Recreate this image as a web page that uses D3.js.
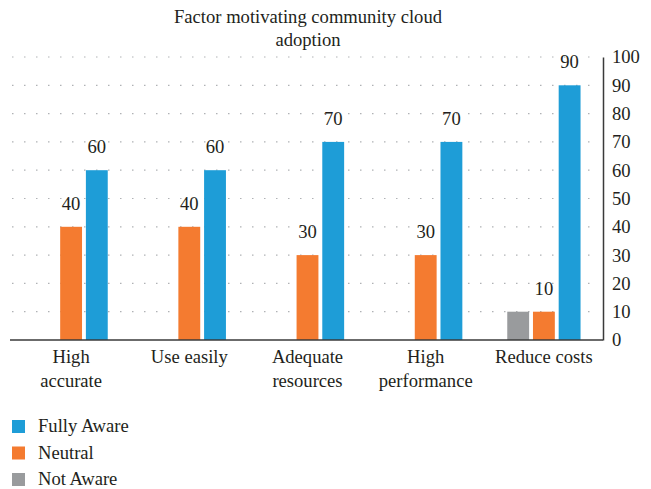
<!DOCTYPE html>
<html>
<head>
<meta charset="utf-8">
<script src="https://cdn.jsdelivr.net/npm/d3@7"></script>
<style>
  body { margin: 0; background: #fff; }
  text { font-family: "Liberation Serif", "DejaVu Serif", serif; fill: #231f20; }
</style>
</head>
<body>
<svg id="chart" width="651" height="489"></svg>
<script>
const categories = [["High", "accurate"], ["Use easily"], ["Adequate", "resources"], ["High", "performance"], ["Reduce costs"]];
const series = ["Not Aware", "Neutral", "Fully Aware"];
const notAware = [0, 0, 0, 0, 10];
const neutral = [40, 40, 30, 30, 10];
const fullyAware = [60, 60, 70, 70, 90];
const yTicks = [0, 10, 20, 30, 40, 50, 60, 70, 80, 90, 100];
const legendOrder = ["Fully Aware", "Neutral", "Not Aware"];

const colors = { "Not Aware": "#999b9d", "Neutral": "#f47b30", "Fully Aware": "#1e9dd7" };
const values = { "Not Aware": notAware, "Neutral": neutral, "Fully Aware": fullyAware };

const svg = d3.select("#chart");
const plotLeft = 12, plotRight = 603, plotTop = 57, plotBottom = 340;
const fs = 18.6;

const catKeys = categories.map(c => c.join(" "));
const x0 = d3.scaleBand().domain(catKeys).range([plotLeft, plotRight]).paddingInner(0.38).paddingOuter(0.19);
const x1 = d3.scaleBand().domain(series).range([0, x0.bandwidth()]).paddingInner(0.15);
const y = d3.scaleLinear().domain([0, 100]).range([plotBottom, plotTop]);

// title
svg.append("text").attr("x", 308).attr("text-anchor", "middle").attr("font-size", fs)
  .selectAll("tspan").data(["Factor motivating community cloud", "adoption"]).join("tspan")
  .attr("x", 308).attr("y", (d, i) => 23 + i * 23).text(d => d);

// dotted grid
svg.append("g").selectAll("line").data(yTicks.filter(d => d > 0)).join("line")
  .attr("x1", plotLeft).attr("x2", plotRight - 4)
  .attr("y1", d => y(d)).attr("y2", d => y(d))
  .attr("stroke", "#b0b2b5").attr("stroke-width", 1.2).attr("stroke-dasharray", "1.5 10.5");

// bars
const groups = svg.append("g").selectAll("g").data(catKeys).join("g")
  .attr("transform", d => `translate(${x0(d)},0)`);

groups.selectAll("rect")
  .data((d, i) => series.map(s => ({ s, v: values[s][i] })).filter(e => e.v > 0))
  .join("rect")
  .attr("x", d => x1(d.s)).attr("width", x1.bandwidth())
  .attr("y", d => y(d.v)).attr("height", d => y(0) - y(d.v))
  .attr("fill", d => colors[d.s]);

// value labels (grey label is hidden in the original)
groups.selectAll("text.val")
  .data((d, i) => ["Neutral", "Fully Aware"].map(s => ({ s, v: values[s][i] })).filter(e => e.v > 0))
  .join("text").attr("class", "val")
  .attr("x", d => x1(d.s) + x1.bandwidth() / 2).attr("y", d => y(d.v) - 17)
  .attr("text-anchor", "middle").attr("font-size", fs).text(d => d.v);

// baseline and right axis
svg.append("line").attr("x1", 10).attr("x2", plotRight).attr("y1", plotBottom).attr("y2", plotBottom)
  .attr("stroke", "#3a3a3a").attr("stroke-width", 1.5);

const yAxis = svg.append("g").attr("transform", `translate(${plotRight},0)`)
  .call(d3.axisRight(y).tickValues(yTicks).tickSize(0).tickPadding(9));
yAxis.attr("font-family", null);
yAxis.select(".domain").attr("stroke", "#3a3a3a").attr("stroke-width", 1.5);
yAxis.selectAll("text").attr("font-size", fs).attr("fill", "#231f20");

// category labels
svg.append("g").selectAll("text").data(categories).join("text")
  .attr("text-anchor", "middle").attr("font-size", fs)
  .each(function (d, i) {
    const cx = x0(catKeys[i]) + x0.bandwidth() / 2;
    d3.select(this).selectAll("tspan").data(d).join("tspan")
      .attr("x", cx).attr("y", (t, j) => 363 + j * 24).text(t => t);
  });

// legend
const lg = svg.append("g").selectAll("g").data(legendOrder).join("g")
  .attr("transform", (d, i) => `translate(12,${420 + i * 26.5})`);
lg.append("rect").attr("width", 13).attr("height", 13).attr("fill", d => colors[d]);
lg.append("text").attr("x", 26).attr("y", 12).attr("font-size", fs).text(d => d);
</script>
</body>
</html>
